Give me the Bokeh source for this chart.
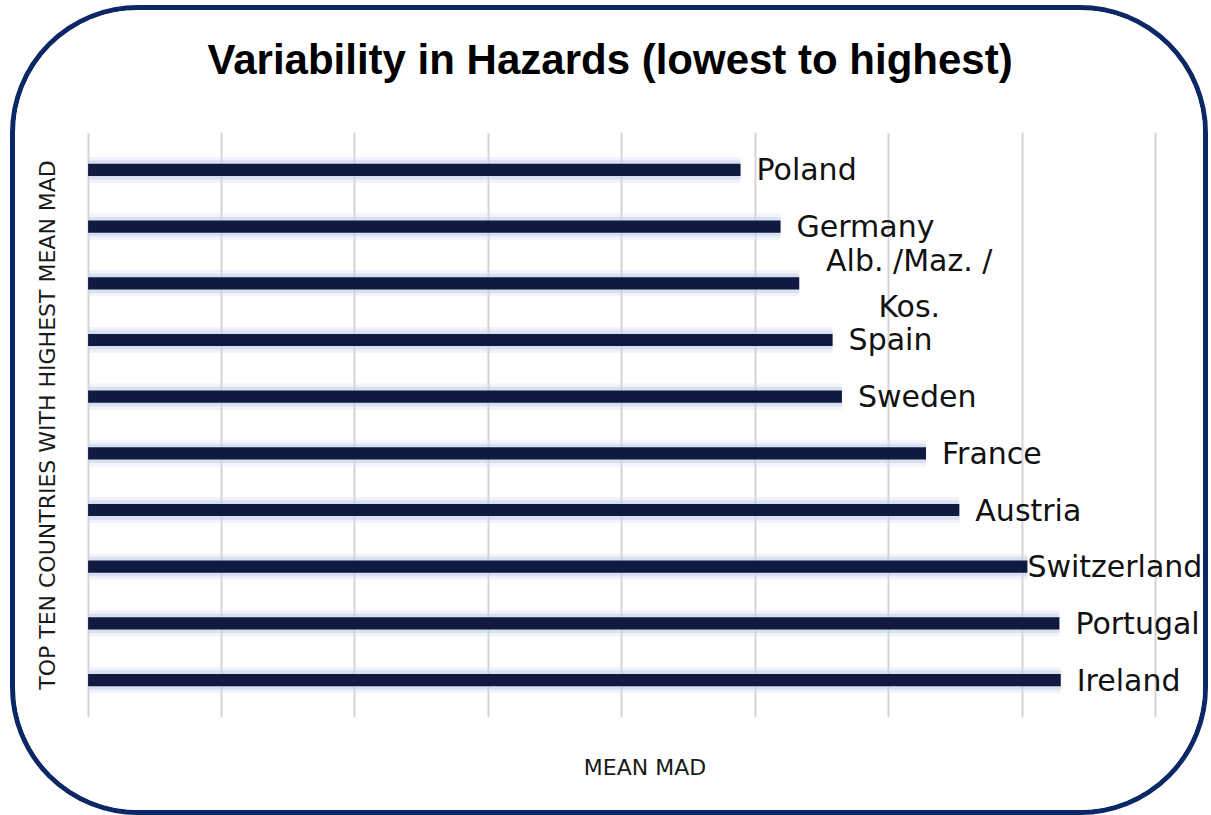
from bokeh.plotting import figure
from bokeh.models import (ColumnDataSource, FactorRange, Range1d, FixedTicker,
                          CDSView, BooleanFilter)
from bokeh.core.properties import value
from bokeh.embed import file_html
from bokeh.resources import INLINE

# ---- data (top to bottom) ----
countries = ["Poland", "Germany", "Alb. /Maz. /\nKos.", "Spain", "Sweden",
             "France", "Austria", "Switzerland", "Portugal", "Ireland"]
mean_mad = [4.89, 5.19, 5.33, 5.58, 5.65, 6.28, 6.53, 7.04, 7.28, 7.29]
x_ticks = [0, 1, 2, 3, 4, 5, 6, 7, 8]

title = "Variability in Hazards (lowest to highest)"
y_title = "TOP TEN COUNTRIES WITH HIGHEST MEAN MAD"
x_title = "MEAN MAD"

NAVY = "#10193f"
BORDER = "#0c2766"
LABEL_FONT = "DejaVu Sans"

dx = [0 if c == "Switzerland" else 16 for c in countries]
multi = [("\n" in c) for c in countries]
src = ColumnDataSource(dict(country=countries, value=mean_mad, dx=dx))

p = figure(width=1198, height=810, output_backend="svg", toolbar_location=None,
           y_range=FactorRange(factors=countries[::-1], range_padding=0.032),
           x_range=Range1d(-0.012, 8.36),
           min_border_left=71, min_border_right=10, min_border_top=122,
           min_border_bottom=103, title=title)
p.margin = (5, 0, 0, 10)
p.styles = {"border": f"5px solid {BORDER}", "border-radius": "128px",
            "overflow": "hidden", "background-color": "white"}

p.background_fill_color = "white"
p.border_fill_color = "white"
p.outline_line_color = None

p.title.align = "left"
p.title.vertical_align = "top"
p.title.offset = 121
p.title.text_font = "Liberation Sans"
p.title.text_font_style = "bold"
p.title.text_font_size = "42px"
p.title.text_color = "black"
p.title.standoff = 48
p.title.padding = dict(left=0, right=0, top=0, bottom=24)

# grid
p.xgrid.ticker = FixedTicker(ticks=x_ticks)
p.xaxis.ticker = FixedTicker(ticks=[])
p.yaxis.ticker = FixedTicker(ticks=[])
p.xgrid.grid_line_color = "#d4d4d4"
p.xgrid.grid_line_width = 2
p.ygrid.grid_line_color = None

for ax in (p.xaxis, p.yaxis):
    ax.axis_line_color = None
    ax.major_tick_line_color = None
    ax.minor_tick_line_color = None
    ax.axis_label_text_font = LABEL_FONT
    ax.axis_label_text_font_size = "22px"
    ax.axis_label_text_font_style = "normal"
    ax.axis_label_text_color = "#1a1a1a"

p.xaxis.axis_label = x_title
p.yaxis.axis_label = y_title
p.xaxis.axis_label_standoff = 37
p.yaxis.axis_label_standoff = 27

# glow behind bars
p.hbar(y="country", right="value", left=0, height=0.46, source=src,
       fill_color="#d3deee", fill_alpha=0.35, line_color=None)
p.hbar(y="country", right="value", left=0, height=0.34, source=src,
       fill_color="#bccde6", fill_alpha=0.45, line_color=None)
p.hbar(y="country", right="value", left=0, height=0.215, source=src,
       fill_color=NAVY, line_color=None)

# labels
single_view = CDSView(filter=BooleanFilter([not m for m in multi]))
multi_view = CDSView(filter=BooleanFilter(multi))
p.text(x="value", y="country", text="country", source=src, view=single_view,
       x_offset="dx", text_align="left", text_baseline="middle",
       text_font_size="30px", text_font=value(LABEL_FONT), text_color="#111111")
p.text(x="value", y="country", text="country", source=src, view=multi_view,
       x_offset=110, text_align="center", text_baseline="middle",
       text_line_height=1.3,
       text_font_size="30px", text_font=value(LABEL_FONT), text_color="#111111")

open("out.html", "w").write(file_html(p, INLINE))
